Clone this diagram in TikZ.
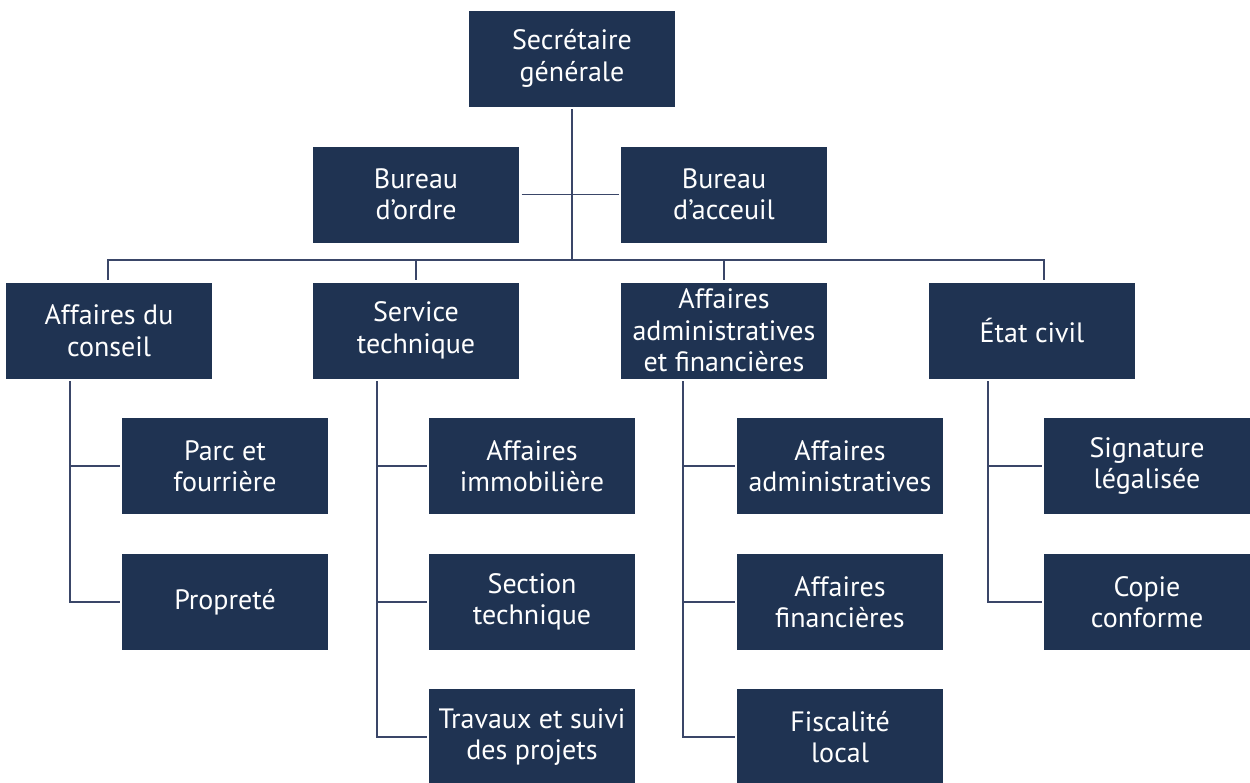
\documentclass[tikz,border=0pt]{standalone}
\usepackage{fontspec}
\setmainfont{PT Sans}
\definecolor{boxfill}{HTML}{1F3352}
\definecolor{linec}{HTML}{3A4668}
\begin{document}
\begin{tikzpicture}[x=1pt,y=-1pt,
  box/.style={fill=boxfill,text=white,minimum width=206pt,minimum height=96pt,inner sep=0pt,
    align=center,outer sep=2.5pt,font=\fontsize{28}{31.5}\selectfont},
  conn/.style={draw=linec,line width=1.8pt}]
\useasboundingbox (0,0) rectangle (1250,782);
% top
\node[box] (sg) at (572,58.5) {Secrétaire\\générale};
\node[box] (bo) at (416,194.5) {Bureau\\d’ordre};
\node[box] (ba) at (724,194.5) {Bureau\\d’acceuil};
% row 2
\node[box] (ac) at (109,330.5) {Affaires du\\conseil};
\node[box] (st) at (416,330.5) {Service\\technique};
\node[box] (aaf) at (724,330.5) {Affaires\\administratives\\et financières};
\node[box] (ec) at (1032,330.5) {État civil};
% children
\node[box] (parc) at (225,466) {Parc et\\fourrière};
\node[box] (prop) at (225,602) {Propreté};
\node[box] (ai) at (532,466) {Affaires\\immobilière};
\node[box] (sect) at (532,602) {Section\\technique};
\node[box] (trav) at (532,737) {Travaux et suivi\\des projets};
\node[box] (aa) at (840,466) {Affaires\\administratives};
\node[box] (af) at (840,602) {Affaires\\financières};
\node[box] (fl) at (840,737) {Fiscalité\\local};
\node[box] (sig) at (1147,466) {Signature\\légalisée};
\node[box] (cop) at (1147,602) {Copie\\conforme};
% bus coordinates
\coordinate (busL) at (108,260);
\coordinate (busR) at (1044,260);
\coordinate (spA) at (70,0);
\coordinate (spB) at (377,0);
\coordinate (spC) at (683,0);
\coordinate (spD) at (988,0);
% connectors
\draw[conn] (sg.south) -- (sg.south |- busL);
\draw[conn] (bo.east) -- (ba.west);
\draw[conn,line cap=rect] (busL) -- (busR);
\draw[conn] (busL) -- (busL |- ac.north);
\draw[conn] (st.north |- busL) -- (st.north);
\draw[conn] (aaf.north |- busL) -- (aaf.north);
\draw[conn] (busR) -- (busR |- ec.north);
% spines
\draw[conn] (ac.south -| spA) |- (parc.west);
\draw[conn] (ac.south -| spA) |- (prop.west);
\draw[conn] (st.south -| spB) |- (ai.west);
\draw[conn] (st.south -| spB) |- (sect.west);
\draw[conn] (st.south -| spB) |- (trav.west);
\draw[conn] (aaf.south -| spC) |- (aa.west);
\draw[conn] (aaf.south -| spC) |- (af.west);
\draw[conn] (aaf.south -| spC) |- (fl.west);
\draw[conn] (ec.south -| spD) |- (sig.west);
\draw[conn] (ec.south -| spD) |- (cop.west);
\end{tikzpicture}
\end{document}
